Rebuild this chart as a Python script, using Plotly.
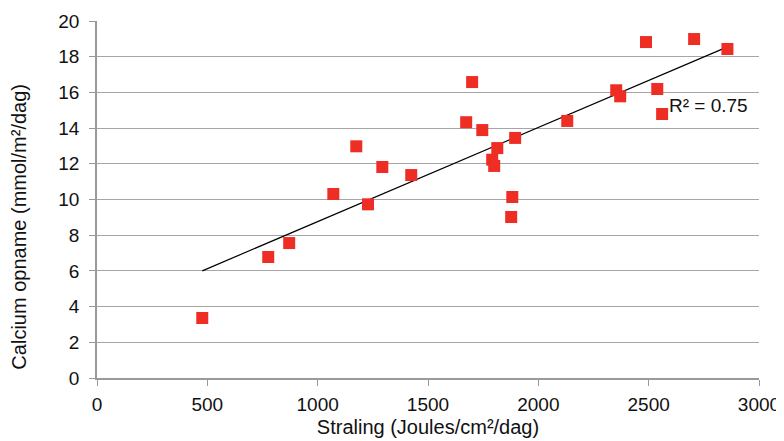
import plotly.graph_objects as go
import numpy as np

# Straling (Joules/cm2/dag) vs calcium opname (mmol/m2/dag)
straling = [477, 776, 871, 1071, 1228, 1175, 1293, 1424, 1673, 1700,
            1746, 1791, 1800, 1814, 1882, 1877, 1895, 2131, 2353, 2371,
            2488, 2539, 2561, 2706, 2857]
calcium = [3.36, 6.78, 7.56, 10.31, 9.73, 12.98, 11.82, 11.37, 14.33, 16.58,
           13.89, 12.23, 11.88, 12.88, 10.14, 9.02, 13.45, 14.40, 16.12, 15.78,
           18.82, 16.19, 14.79, 18.99, 18.43]

x_ticks = [0, 500, 1000, 1500, 2000, 2500, 3000]
y_ticks = [0, 2, 4, 6, 8, 10, 12, 14, 16, 18, 20]

# linear trendline
slope, intercept = np.polyfit(straling, calcium, 1)
trend_x = [min(straling), max(straling)]
trend_y = [slope * v + intercept for v in trend_x]

fig = go.Figure()

fig.add_trace(go.Scatter(
    x=trend_x, y=trend_y,
    mode='lines',
    line=dict(color='black', width=1.2),
    showlegend=False,
    hoverinfo='skip'
))

fig.add_trace(go.Scatter(
    x=straling, y=calcium,
    mode='markers',
    marker=dict(symbol='square', size=12, color='#EE2E24'),
    showlegend=False,
    cliponaxis=False
))

fig.add_annotation(
    x=2584, y=15.28, xref='x', yref='y',
    text='R² = 0.75', showarrow=False,
    xanchor='left', yanchor='middle',
    font=dict(size=19, color='#111111')
)

# y title sits a bit below the middle of the axis in the original
fig.add_annotation(
    x=0, y=0.424, xref='paper', yref='paper',
    text='Calcium opname (mmol/m²/dag)', showarrow=False,
    textangle=-90, xanchor='center', yanchor='middle', xshift=-78,
    font=dict(size=20, color='#111111')
)

# page body has an 8px margin, so the figure is a bit smaller than the window
fig.update_layout(
    width=776, height=433,
    margin=dict(l=89, r=25, t=13, b=63),
    plot_bgcolor='white', paper_bgcolor='white',
    font=dict(family='Liberation Sans, Arial, sans-serif', size=19, color='#111111'),
    showlegend=False
)

fig.update_xaxes(
    range=[0, 3000], tickvals=x_ticks,
    showgrid=False, zeroline=False,
    showline=True, linecolor='#999999', linewidth=1.5,
    ticks='outside', ticklen=6, tickcolor='#999999',
    ticklabelstandoff=2,
    automargin=False,
    title=dict(text='Straling (Joules/cm²/dag)', standoff=6, font=dict(size=20))
)
fig.update_yaxes(
    range=[0, 20], tickvals=y_ticks,
    showgrid=True, gridcolor='#A6A6A6', gridwidth=1.2,
    zeroline=False,
    showline=True, linecolor='#999999', linewidth=1.5,
    ticks='outside', ticklen=6, tickcolor='#999999',
    ticklabelstandoff=6,
    automargin=False
)

fig.write_html('out.html')
